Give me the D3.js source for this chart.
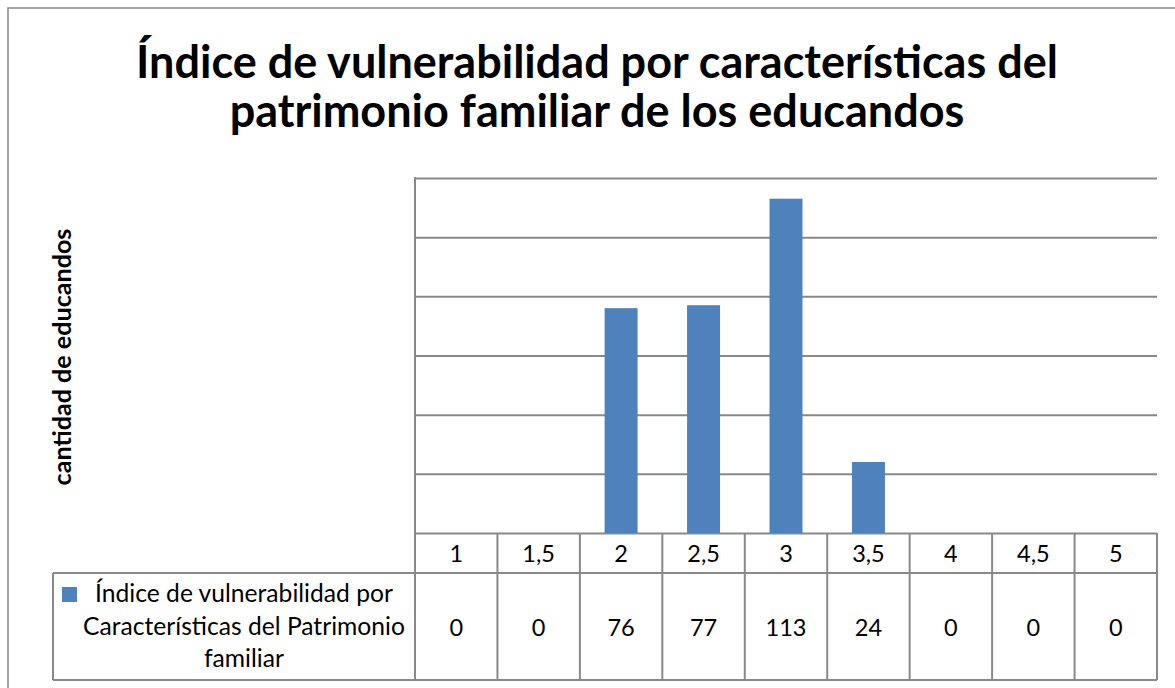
<!DOCTYPE html>
<html>
<head>
<meta charset="utf-8">
<script src="https://cdn.jsdelivr.net/npm/d3@7"></script>
<style>
  body { margin: 0; background: #fff; }
  svg { display: block; font-family: Lato, "Open Sans", sans-serif; }
</style>
</head>
<body>
<div id="chart"></div>
<script>
// Chart data
const categories = ["1", "1,5", "2", "2,5", "3", "3,5", "4", "4,5", "5"];
const values = [0, 0, 76, 77, 113, 24, 0, 0, 0];
const yTicks = [0, 20, 40, 60, 80, 100, 120];
const titleLines = ["Índice de vulnerabilidad por características del",
                    "patrimonio familiar de los educandos"];
const yLabel = "cantidad de educandos";
const legendLines = ["Índice de vulnerabilidad por",
                     "Características del Patrimonio",
                     "familiar"];

const WIDTH = 1175, HEIGHT = 688;
const plot = {left: 415, right: 1157, top: 178, bottom: 533};
const table = {headerBottom: 573, bottom: 680, legendLeft: 53};
const GRID = "#898989";
const BAR = "#4f81bd";

let svg = d3.select("#chart").append("svg")
    .attr("width", WIDTH)
    .attr("height", HEIGHT);

// outer chart frame (runs past the right / bottom edge)
svg.append("rect")
    .attr("x", 8).attr("y", 8)
    .attr("width", WIDTH + 20).attr("height", HEIGHT + 20)
    .attr("fill", "none")
    .attr("stroke", GRID)
    .attr("stroke-width", 1.5);

let x = d3.scaleBand()
    .domain(categories)
    .range([plot.left, plot.right]);
let y = d3.scaleLinear()
    .domain([0, 120])
    .range([plot.bottom, plot.top]);

// shrink/grow the font so the text spans the given width
function fitText(sel, targetWidth) {
    let size = parseFloat(sel.attr("font-size"));
    let w = sel.node().getComputedTextLength();
    sel.attr("font-size", size * targetWidth / w);
}

// gridlines
let grid = svg.append("g")
    .attr("transform", `translate(${plot.left},0)`)
    .call(d3.axisLeft(y).tickValues(yTicks).tickSize(-(plot.right - plot.left)).tickFormat(""));
grid.select(".domain").remove();
grid.selectAll("line").attr("stroke", GRID).attr("stroke-width", 2);

// bars
let barW = x.bandwidth() * 0.4;
svg.append("g").selectAll("rect")
    .data(values)
    .enter()
    .append("rect")
    .attr("x", (d, i) => x(categories[i]) + (x.bandwidth() - barW) / 2)
    .attr("y", d => y(d))
    .attr("width", barW)
    .attr("height", d => y(0) - y(d))
    .attr("fill", BAR);

// data table lines
let lines = svg.append("g").attr("stroke", GRID).attr("stroke-width", 2);
lines.append("line")
    .attr("x1", plot.left).attr("x2", plot.left)
    .attr("y1", plot.top - 1).attr("y2", table.bottom);
lines.append("line")
    .attr("x1", table.legendLeft).attr("x2", plot.right)
    .attr("y1", table.headerBottom).attr("y2", table.headerBottom);
lines.append("line")
    .attr("x1", table.legendLeft).attr("x2", plot.right)
    .attr("y1", table.bottom).attr("y2", table.bottom);
lines.append("line")
    .attr("x1", table.legendLeft).attr("x2", table.legendLeft)
    .attr("y1", table.headerBottom).attr("y2", table.bottom);
lines.selectAll(".vline")
    .data(categories)
    .enter()
    .append("line")
    .attr("class", "vline")
    .attr("x1", d => x(d) + x.bandwidth()).attr("x2", d => x(d) + x.bandwidth())
    .attr("y1", plot.bottom).attr("y2", table.bottom);

// header row + value row
svg.append("g").selectAll("text")
    .data(categories)
    .enter()
    .append("text")
    .attr("x", d => x(d) + x.bandwidth() / 2)
    .attr("y", 562)
    .attr("text-anchor", "middle")
    .style("font-size", "23.5px")
    .text(d => d);
svg.append("g").selectAll("text")
    .data(values)
    .enter()
    .append("text")
    .attr("x", (d, i) => x(categories[i]) + x.bandwidth() / 2)
    .attr("y", 636)
    .attr("text-anchor", "middle")
    .style("font-size", "23.5px")
    .text(d => d);

// legend key inside the table
svg.append("rect")
    .attr("x", 62).attr("y", 587)
    .attr("width", 15).attr("height", 15)
    .attr("fill", BAR);
let legendY = [602, 635, 667];
let legendText = svg.append("g").selectAll("text")
    .data(legendLines)
    .enter()
    .append("text")
    .attr("x", 244)
    .attr("y", (d, i) => legendY[i])
    .attr("text-anchor", "middle")
    .attr("font-size", 20)
    .text(d => d);
let lt = d3.select(legendText.nodes()[1]);
fitText(lt, 322);
legendText.attr("font-size", lt.attr("font-size"));

// title
let titles = svg.append("g").selectAll("text")
    .data(titleLines)
    .enter()
    .append("text")
    .attr("x", 597)
    .attr("y", (d, i) => [78, 127][i])
    .attr("text-anchor", "middle")
    .attr("font-weight", "bold")
    .attr("font-size", 40)
    .text(d => d);
let t0 = d3.select(titles.nodes()[0]);
fitText(t0, 922);
titles.attr("font-size", t0.attr("font-size"));

// y axis title
let yl = svg.append("text")
    .attr("transform", `translate(71, 357) rotate(-90)`)
    .attr("text-anchor", "middle")
    .attr("font-weight", "bold")
    .attr("font-size", 18)
    .text(yLabel);
fitText(yl, 257);
</script>
</body>
</html>
